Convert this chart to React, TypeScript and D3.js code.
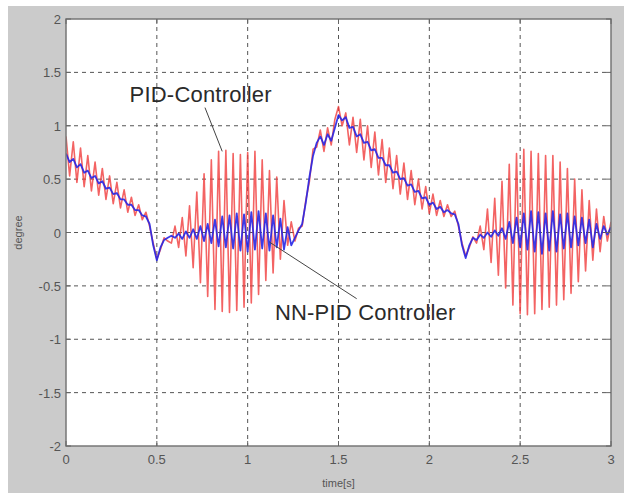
import React from "react";
import * as d3 from "d3";

const sampleStep = 0.02; // seconds between samples

const pidValues = [
  0.90, 0.53, 0.85, 0.47, 0.79, 0.43, 0.72, 0.39, 0.66, 0.35,
  0.60, 0.31, 0.53, 0.27, 0.47, 0.23, 0.40, 0.19, 0.33, 0.16,
  0.26, 0.12, 0.19, 0.06, -0.10, -0.25, -0.16, -0.05, -0.08, -0.10,
  0.06, -0.14, 0.14, -0.22, 0.25, -0.33, 0.38, -0.47, 0.55, -0.60,
  0.68, -0.72, 0.76, -0.74, 0.77, -0.75, 0.74, -0.73, 0.73, -0.70,
  0.75, -0.66, 0.76, -0.58, 0.68, -0.45, 0.58, -0.38, 0.52, -0.25,
  0.30, -0.12, 0.10, -0.08, 0.04, 0.06, 0.30, 0.48, 0.78, 0.80,
  0.96, 0.76, 0.98, 0.82, 1.06, 1.18, 1.00, 1.12, 0.82, 1.08,
  0.75, 1.06, 0.68, 1.00, 0.61, 0.94, 0.54, 0.87, 0.47, 0.79,
  0.41, 0.72, 0.36, 0.65, 0.31, 0.58, 0.26, 0.50, 0.22, 0.43,
  0.18, 0.36, 0.16, 0.30, 0.15, 0.26, 0.15, 0.20, 0.06, -0.10,
  -0.22, -0.14, -0.04, -0.10, 0.06, -0.16, 0.22, -0.28, 0.32, -0.40,
  0.48, -0.52, 0.64, -0.68, 0.74, -0.76, 0.78, -0.77, 0.76, -0.76,
  0.74, -0.72, 0.72, -0.70, 0.72, -0.68, 0.66, -0.63, 0.60, -0.57,
  0.50, -0.46, 0.40, -0.36, 0.30, -0.26, 0.22, -0.18, 0.15, -0.08,
  0.10,
];

const nnPidValues = [
  0.74, 0.66, 0.69, 0.61, 0.64, 0.56, 0.58, 0.51, 0.53, 0.46,
  0.48, 0.41, 0.42, 0.36, 0.37, 0.31, 0.31, 0.26, 0.26, 0.21,
  0.21, 0.16, 0.15, 0.08, -0.12, -0.26, -0.14, -0.07, -0.05, -0.03,
  -0.05, -0.01, -0.06, 0.01, -0.05, 0.03, -0.06, 0.06, -0.08, 0.08,
  -0.10, 0.12, -0.13, 0.15, -0.14, 0.16, -0.15, 0.18, -0.17, 0.17,
  -0.18, 0.19, -0.16, 0.20, -0.15, 0.18, -0.17, 0.16, -0.14, 0.13,
  -0.16, 0.05, -0.12, -0.05, 0.02, 0.08, 0.28, 0.52, 0.72, 0.84,
  0.90, 0.82, 0.92, 0.86, 0.98, 1.10, 1.05, 1.08, 0.98, 0.99,
  0.90, 0.92, 0.84, 0.85, 0.77, 0.78, 0.70, 0.70, 0.63, 0.63,
  0.56, 0.57, 0.50, 0.51, 0.44, 0.45, 0.38, 0.39, 0.32, 0.33,
  0.26, 0.28, 0.22, 0.24, 0.19, 0.21, 0.18, 0.17, 0.08, -0.12,
  -0.24, -0.12, -0.05, -0.07, -0.02, -0.05, 0.00, -0.04, 0.02, -0.03,
  0.04, -0.06, 0.10, -0.10, 0.14, -0.14, 0.18, -0.16, 0.20, -0.18,
  0.19, -0.20, 0.18, -0.17, 0.20, -0.18, 0.17, -0.15, 0.18, -0.14,
  0.15, -0.12, 0.14, -0.10, 0.12, -0.14, 0.08, -0.06, 0.06, -0.02,
  0.05,
];

const xTicks = [0, 0.5, 1, 1.5, 2, 2.5, 3];
const xTickLabels = ["0", "0.5", "1", "1.5", "2", "2.5", "3"];
const yTicks = [2, 1.5, 1, 0.5, 0, -0.5, -1, -1.5, -2];
const yTickLabels = ["2", "1.5", "1", "0.5", "0", "-0.5", "-1", "-1.5", "-2"];

const annotationLabels = ["PID-Controller", "NN-PID Controller"];
// [textX, textY, lineFromX, lineFromY, lineToX, lineToY] in data units
const annotationAnchors = [
  [0.35, 1.225, 0.765, 1.17, 0.86, 0.76],
  [1.15, -0.815, 1.12, -0.09, 1.6, -0.62],
];

export default function App() {
  const W = 624;
  const H = 493;
  const left = 66;
  const right = 611;
  const top = 19;
  const bottom = 446;

  const x = d3.scaleLinear().domain([0, 3]).range([left, right]);
  const y = d3.scaleLinear().domain([-2, 2]).range([bottom, top]);

  const line = d3
    .line<number>()
    .x((_, i) => x(i * sampleStep))
    .y((d) => y(d));

  const font = "'Liberation Sans', Arial, sans-serif";

  return (
    <svg
      width={W}
      height={H}
      style={{ position: "absolute", left: 0, top: 0, background: "#ffffff" }}
    >
      <rect x={8} y={6} width={W - 8} height={H - 6} fill="#cbcbcb" />
      <rect x={left} y={top} width={right - left} height={bottom - top} fill="#ffffff" />
      <defs>
        <clipPath id="plotclip">
          <rect x={left} y={top} width={right - left} height={bottom - top} />
        </clipPath>
      </defs>

      {/* grid */}
      {xTicks.slice(1, -1).map((t) => (
        <line
          key={"gx" + t}
          x1={x(t)}
          x2={x(t)}
          y1={top}
          y2={bottom}
          stroke="#555"
          strokeWidth={1}
          strokeDasharray="4,4"
        />
      ))}
      {yTicks.slice(1, -1).map((t) => (
        <line
          key={"gy" + t}
          x1={left}
          x2={right}
          y1={y(t)}
          y2={y(t)}
          stroke="#555"
          strokeWidth={1}
          strokeDasharray="4,4"
        />
      ))}

      {/* data */}
      <g clipPath="url(#plotclip)">
        <path
          d={line(pidValues) || ""}
          fill="none"
          stroke="#f03c3c"
          strokeWidth={1.6}
          strokeOpacity={0.8}
          strokeLinejoin="round"
        />
        <path
          d={line(nnPidValues) || ""}
          fill="none"
          stroke="#2626e6"
          strokeWidth={1.8}
          strokeOpacity={0.9}
          strokeLinejoin="round"
        />
      </g>

      {/* annotations */}
      {annotationAnchors.map((a, i) => (
        <g key={"ann" + i}>
          <line
            x1={x(a[2])}
            y1={y(a[3])}
            x2={x(a[4])}
            y2={y(a[5])}
            stroke="#444"
            strokeWidth={1}
          />
          <text
            x={x(a[0])}
            y={y(a[1])}
            fontFamily={font}
            fontSize={22}
            letterSpacing={0.2}
            fill="#2a2a2a"
          >
            {annotationLabels[i]}
          </text>
        </g>
      ))}

      {/* axes box */}
      <rect
        x={left}
        y={top}
        width={right - left}
        height={bottom - top}
        fill="none"
        stroke="#777"
        strokeWidth={1.5}
      />
      {xTicks.map((t) => (
        <g key={"tx" + t}>
          <line x1={x(t)} x2={x(t)} y1={bottom} y2={bottom - 5} stroke="#666" />
          <line x1={x(t)} x2={x(t)} y1={top} y2={top + 5} stroke="#666" />
        </g>
      ))}
      {yTicks.map((t) => (
        <g key={"ty" + t}>
          <line x1={left} x2={left + 5} y1={y(t)} y2={y(t)} stroke="#666" />
          <line x1={right} x2={right - 5} y1={y(t)} y2={y(t)} stroke="#666" />
        </g>
      ))}

      {xTicks.map((t, i) => (
        <text
          key={"lx" + t}
          x={x(t)}
          y={bottom + 18}
          textAnchor="middle"
          fontFamily={font}
          fontSize={13}
          fill="#555"
        >
          {xTickLabels[i]}
        </text>
      ))}
      {yTicks.map((t, i) => (
        <text
          key={"ly" + t}
          x={left - 5}
          y={y(t) + 5}
          textAnchor="end"
          fontFamily={font}
          fontSize={13}
          fill="#555"
        >
          {yTickLabels[i]}
        </text>
      ))}

      <text
        x={(left + right) / 2}
        y={487}
        textAnchor="middle"
        fontFamily={font}
        fontSize={11}
        fill="#555"
      >
        time[s]
      </text>
      <text
        transform={`translate(22, ${(top + bottom) / 2}) rotate(-90)`}
        textAnchor="middle"
        fontFamily={font}
        fontSize={11}
        fill="#555"
      >
        degree
      </text>
    </svg>
  );
}
